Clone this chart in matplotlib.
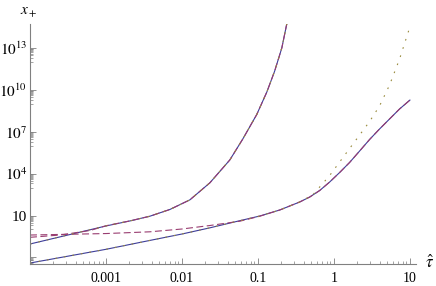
import matplotlib
matplotlib.use("Agg")
import matplotlib.pyplot as plt
from matplotlib.ticker import FixedLocator, NullFormatter, FixedFormatter

plt.rcParams['font.family'] = ['Liberation Serif', 'DejaVu Serif']
plt.rcParams['mathtext.fontset'] = 'stix'
plt.rcParams['lines.scale_dashes'] = False

# ---- data ----
# upper group: solid (exact), dashed, dotted
tau_s1 = [1e-4, 1e-3, 2.07e-3, 3.78e-3, 6.93e-3, 0.0127, 0.0233, 0.0426, 0.0631, 0.0964, 0.131, 0.166, 0.206, 0.2393, 0.245]
x_s1   = [0.091, 1.78, 4.1, 8.9, 27, 132, 2.2e3, 9.5e4, 3.0e6, 1.72e8, 7.1e9, 2.24e11, 1.0e13, 5.2e14, 1.5e15]
tau_d1 = [1e-4, 2.49e-4, 6.16e-4, 1e-3, 2.07e-3, 3.78e-3, 6.93e-3, 0.0127, 0.0233, 0.0426, 0.0631, 0.0964, 0.131, 0.166, 0.206, 0.2393, 0.245]
x_d1   = [0.274, 0.40, 0.84, 1.85, 4.1, 8.9, 27, 132, 2.2e3, 9.5e4, 3.0e6, 1.72e8, 7.1e9, 2.24e11, 1.0e13, 5.2e14, 1.5e15]
tau_o1 = [1e-4, 1e-3, 2.07e-3, 3.78e-3, 6.93e-3, 0.0127, 0.0233, 0.0426, 0.0631, 0.0964, 0.131, 0.166, 0.206, 0.2393, 0.245]
x_o1   = [0.091, 1.78, 4.1, 8.9, 27, 132, 2.2e3, 9.5e4, 3.0e6, 1.72e8, 7.1e9, 2.24e11, 1.0e13, 5.2e14, 1.5e15]

# lower group: solid (exact), dashed, dotted
tau_s2 = [1e-4, 1e-3, 3.78e-3, 0.01, 0.0233, 0.0577, 0.1057, 0.1934, 0.354, 0.48, 0.649, 0.878,
          1.188, 1.607, 2.177, 2.944, 3.98, 5.39, 7.30, 10]
x_s2   = [0.00395, 0.0379, 0.164, 0.473, 1.31, 4.25, 9.2, 24.8, 92.7, 211, 618, 2.5e3,
          1.2e4, 6.3e4, 4.17e5, 2.78e6, 1.57e7, 8.2e7, 4.26e8, 1.86e9]
tau_d2 = [1e-4, 1e-3, 3.78e-3, 0.01, 0.0233, 0.0577, 0.1057, 0.1934, 0.354, 0.48, 0.649, 0.878,
          1.188, 1.607, 2.177, 2.944, 3.98, 5.39, 7.30, 10]
x_d2   = [0.40, 0.51, 0.68, 1.08, 1.92, 3.9, 8.9, 24.8, 92.7, 211, 618, 2.5e3,
          1.2e4, 6.3e4, 4.17e5, 2.78e6, 1.57e7, 8.2e7, 4.26e8, 1.86e9]
tau_o2 = [1e-4, 1e-3, 3.78e-3, 0.01, 0.0233, 0.0577, 0.1057, 0.1934, 0.354, 0.525, 0.649, 0.878,
          1.188, 1.607, 2.177, 2.944, 3.98, 5.39, 7.30, 9.88]
x_o2   = [0.00395, 0.0379, 0.164, 0.473, 1.31, 4.25, 9.2, 24.8, 92.7, 294, 1.1e3, 7.3e3,
          6.8e4, 6.3e5, 5.8e6, 5.4e7, 7.0e8, 2.2e10, 1.6e12, 2.7e14]

xticks = [1e-3, 1e-2, 1e-1, 1, 10]
xticklabels = ['0.001', '0.01', '0.1', '1', '10']
yticks = [1e-2, 1e1, 1e4, 1e7, 1e10, 1e13]
yticklabels = ['', '10', r'$10^{4}$', r'$10^{7}$', r'$10^{10}$', r'$10^{13}$']

c_blue = (0.24, 0.24, 0.6)
c_purple = (0.6, 0.24, 0.442)
c_orange = (0.6, 0.547, 0.24)

fig = plt.figure(figsize=(4.36, 2.86), dpi=100)
ax = fig.add_axes([30/436, 22/286, 386/436, 240/286])
ax.set_xscale('log')
ax.set_yscale('log')
ax.set_xlim(1e-4, 10**1.08)
ax.set_ylim(10**-2.474, 10**14.72)

lw = 0.8
for t, v in [(tau_s1, x_s1), (tau_s2, x_s2)]:
    ax.plot(t, v, color=c_blue, lw=lw)
for t, v in [(tau_d1, x_d1), (tau_d2, x_d2)]:
    ax.plot(t, v, color=c_purple, lw=lw, dashes=(5, 2.5))
for t, v in [(tau_o1, x_o1), (tau_o2, x_o2)]:
    ax.plot(t, v, color=c_orange, lw=lw, dashes=(1.2, 5))

for s in ['top', 'right']:
    ax.spines[s].set_visible(False)
for s in ['left', 'bottom']:
    ax.spines[s].set_color('#808080')
    ax.spines[s].set_linewidth(0.8)

ax.xaxis.set_major_locator(FixedLocator(xticks))
ax.xaxis.set_major_formatter(FixedFormatter(xticklabels))
xminor = [m * 10.0**e for e in range(-4, 1) for m in range(2, 10)]
ax.xaxis.set_minor_locator(FixedLocator(xminor))
ax.xaxis.set_minor_formatter(NullFormatter())

ax.yaxis.set_major_locator(FixedLocator(yticks))
ax.yaxis.set_major_formatter(FixedFormatter(yticklabels))
yminor = [m * 10.0**(e - 1) for e in [-2, 1, 4, 7, 10, 13] for m in range(1, 10)]
ax.yaxis.set_minor_locator(FixedLocator(yminor))
ax.yaxis.set_minor_formatter(NullFormatter())

ax.tick_params(which='major', direction='in', length=4, width=0.6, color='#808080')
ax.tick_params(which='minor', direction='in', length=2, width=0.5, color='#808080')
ax.tick_params(axis='x', which='major', labelsize=10, pad=6)
ax.tick_params(axis='y', which='major', labelsize=11, pad=2)

fig.text(29/436, 1 - 13/286, r'$x_+$', ha='center', va='center', fontsize=11)
fig.text(430/436, 1 - 263/286, r'$\hat{\tau}$', ha='center', va='center', fontsize=12)

fig.savefig('out.png', dpi=100)
